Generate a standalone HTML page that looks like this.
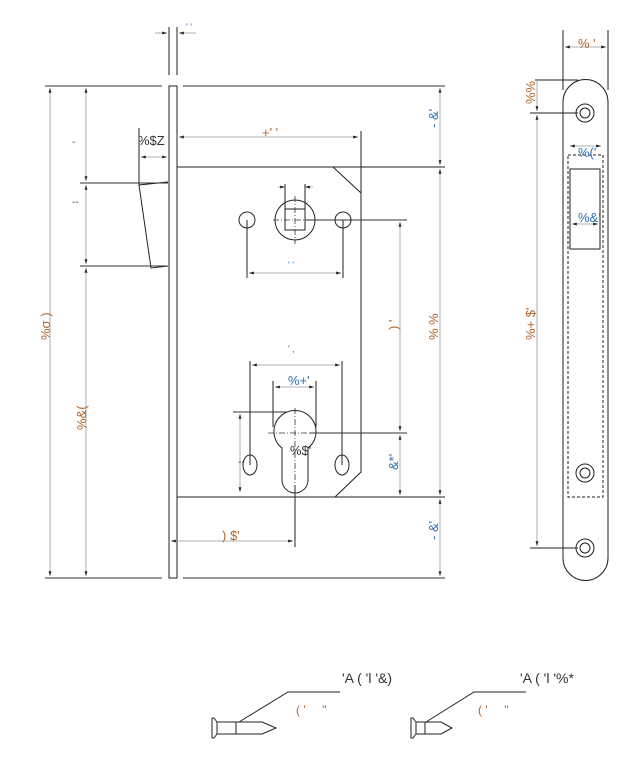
<!DOCTYPE html>
<html><head><meta charset="utf-8"><style>
html,body{margin:0;padding:0;background:#fff;}
svg{display:block;font-family:"Liberation Sans",sans-serif;}
</style></head><body>
<svg width="644" height="774" viewBox="0 0 644 774" xmlns="http://www.w3.org/2000/svg">
<defs>
<marker id="a" viewBox="0 0 10 10" refX="10" refY="5" markerWidth="6" markerHeight="6" orient="auto-start-reverse"><path d="M0,2 L10,5 L0,8z" fill="#222"/></marker>
</defs>
<g fill="none" stroke="#222" stroke-width="1">
<line x1="169" y1="27" x2="169" y2="75"/><line x1="177" y1="27" x2="177" y2="75"/>
<rect x="169" y="86" width="8" height="492"/>
<line x1="177" y1="167" x2="445" y2="167"/>
<line x1="177" y1="497" x2="445" y2="497"/>
<polyline points="333,167 361,193 361,472 335,497"/>
<line x1="361" y1="131" x2="361" y2="193"/>
<polyline points="168,182 139,185 151,268 168,266"/>
<line x1="139" y1="128" x2="139" y2="185"/>
<circle cx="295" cy="220" r="20"/>
<rect x="285" y="209" width="20" height="21"/>
<circle cx="247" cy="220" r="8"/><circle cx="343" cy="220" r="8"/>
<line x1="247" y1="220" x2="247" y2="278"/><line x1="343" y1="220" x2="343" y2="278"/>
<line x1="285" y1="184" x2="285" y2="209"/><line x1="305" y1="184" x2="305" y2="209"/>
<path d="M282,448 A21,21 0 1 1 308,448 L308,480 A13,13 0 0 1 282,480 Z"/>
<ellipse cx="250" cy="465" rx="7" ry="10"/><ellipse cx="342" cy="465" rx="7" ry="10"/>
<line x1="250" y1="361" x2="250" y2="465"/><line x1="342" y1="361" x2="342" y2="465"/>
<line x1="273" y1="381" x2="273" y2="427"/><line x1="316" y1="381" x2="316" y2="427"/>
<line x1="295" y1="485" x2="295" y2="547"/>
<path d="M563,102 A22,22 0 0 1 608,102 L608,558 A22,22 0 0 1 563,558 Z"/>
<rect x="570" y="169" width="30" height="80"/>
<rect x="568" y="155" width="35" height="342" stroke-dasharray="3,2"/>
<circle cx="585" cy="113" r="9"/><circle cx="585" cy="113" r="5"/>
<circle cx="585" cy="473" r="9"/><circle cx="585" cy="473" r="5"/>
<circle cx="585" cy="548" r="9"/><circle cx="585" cy="548" r="5"/>
<line x1="563" y1="30" x2="563" y2="90"/><line x1="608" y1="30" x2="608" y2="90"/>
<line x1="535" y1="80" x2="578" y2="80"/><line x1="530" y1="113" x2="578" y2="113"/><line x1="530" y1="548" x2="578" y2="548"/>
<path d="M212,718 L214,718 L217,722 L217,734 L214,738 L212,738 Z M217,722 L236,722 L236,734 L217,734 M236,722 L262,722 L276,728 L262,734 L236,734"/>
<polyline points="239,722 288,692 340,692"/>
<path d="M411,718 L413,718 L416,722 L416,734 L413,738 L411,738 Z M416,722 L425,722 L425,734 L416,734 M425,722 L441,722 L452,728 L441,734 L425,734"/>
<polyline points="426,722 474,692 526,692"/>
</g>
<g stroke="#333" stroke-width="1">
<line x1="80" y1="183" x2="168" y2="183"/><line x1="80" y1="266" x2="168" y2="266"/>
<line x1="45" y1="86" x2="162" y2="86"/><line x1="183" y1="86" x2="445" y2="86"/>
<line x1="45" y1="578" x2="162" y2="578"/><line x1="183" y1="578" x2="445" y2="578"/>
<line x1="233" y1="412" x2="288" y2="412"/>
<line x1="310" y1="433" x2="407" y2="433"/>
<line x1="305" y1="220" x2="407" y2="220"/>
</g>
<g stroke="#333" stroke-width="0.8" stroke-dasharray="6,2,1,2">
<line x1="295" y1="196" x2="295" y2="244"/><line x1="273" y1="220" x2="319" y2="220"/>
<line x1="295" y1="408" x2="295" y2="500"/><line x1="268" y1="433" x2="322" y2="433"/>
</g>
<g stroke="#999" stroke-width="0.8" marker-start="url(#a)" marker-end="url(#a)">
<line x1="50" y1="88" x2="50" y2="576"/>
<line x1="86" y1="88" x2="86" y2="181"/>
<line x1="86" y1="185" x2="86" y2="264"/>
<line x1="86" y1="268" x2="86" y2="576"/>
<line x1="141" y1="157" x2="167" y2="157"/>
<line x1="179" y1="137" x2="358" y2="137"/>
<line x1="440" y1="88" x2="440" y2="165"/>
<line x1="440" y1="169" x2="440" y2="495"/>
<line x1="440" y1="499" x2="440" y2="576"/>
<line x1="400" y1="222" x2="400" y2="431"/>
<line x1="400" y1="435" x2="400" y2="495"/>
<line x1="249" y1="273" x2="341" y2="273"/>
<line x1="252" y1="365" x2="340" y2="365"/>
<line x1="275" y1="387" x2="314" y2="387"/>
<line x1="240" y1="414" x2="240" y2="492"/>
<line x1="171" y1="541" x2="293" y2="541"/>
<line x1="565" y1="47" x2="606" y2="47"/>
<line x1="570" y1="146" x2="601" y2="146"/>
<line x1="572" y1="224" x2="598" y2="224"/>
<line x1="537" y1="115" x2="537" y2="546"/>
</g>
<g stroke="#999" stroke-width="0.8">
<line x1="155" y1="33" x2="167" y2="33" marker-end="url(#a)"/><line x1="179" y1="33" x2="196" y2="33" marker-start="url(#a)"/>
<line x1="278" y1="187" x2="285" y2="187" marker-end="url(#a)"/><line x1="305" y1="187" x2="313" y2="187" marker-start="url(#a)"/>
<line x1="537" y1="80" x2="537" y2="111" marker-end="url(#a)"/>
</g>
<g font-size="13" fill="#444">
<text x="186" y="30" font-size="9" fill="#2a6fb5">' '</text>
<text x="138" y="145" fill="#333">%$Z</text>
<text x="262" y="137" fill="#b5652a">+' '</text>
<text x="288" y="268" font-size="9" fill="#2a6fb5">' '</text>
<text x="288" y="352" font-size="9" fill="#2a6fb5">' ,</text>
<text x="288" y="385" fill="#2a6fb5">%+'</text>
<text x="290" y="455" fill="#333">%$'</text>
<text x="222" y="540" fill="#b5652a">) $'</text>
<text x="72" y="145" font-size="10">-</text>
<text x="72" y="205" font-size="10">--</text>
<text x="238" y="465" font-size="10">--</text>
<text transform="translate(50,340) rotate(-90)" fill="#b5652a">%σ )</text>
<text transform="translate(86,430) rotate(-90)" fill="#b5652a">%&amp;(</text>
<text transform="translate(438,128) rotate(-90)" fill="#2a6fb5">- &amp;'</text>
<text transform="translate(438,340) rotate(-90)" fill="#b5652a">% %</text>
<text transform="translate(438,540) rotate(-90)" fill="#2a6fb5">- &amp;'</text>
<text transform="translate(398,330) rotate(-90)" fill="#b5652a">) '</text>
<text transform="translate(398,470) rotate(-90)" fill="#2a6fb5">&amp;*'</text>
<text x="578" y="48" fill="#b5652a">% '</text>
<text x="578" y="157" fill="#2a6fb5">%('</text>
<text x="578" y="222" fill="#2a6fb5">%&amp;'</text>
<text transform="translate(535,104) rotate(-90)" fill="#b5652a">%%</text>
<text transform="translate(535,340) rotate(-90)" fill="#b5652a">%+ $'</text>
<text x="342" y="683" font-size="14" fill="#333">'A ( 'l '&amp;)</text>
<text x="296" y="714" font-size="12" fill="#b5652a">( '&#160;&#160;&#160;&#160; "</text>
<text x="520" y="683" font-size="14" fill="#333">'A ( 'l '%*</text>
<text x="478" y="714" font-size="12" fill="#b5652a">( '&#160;&#160;&#160;&#160; "</text>
</g>
</svg>
</body></html>
